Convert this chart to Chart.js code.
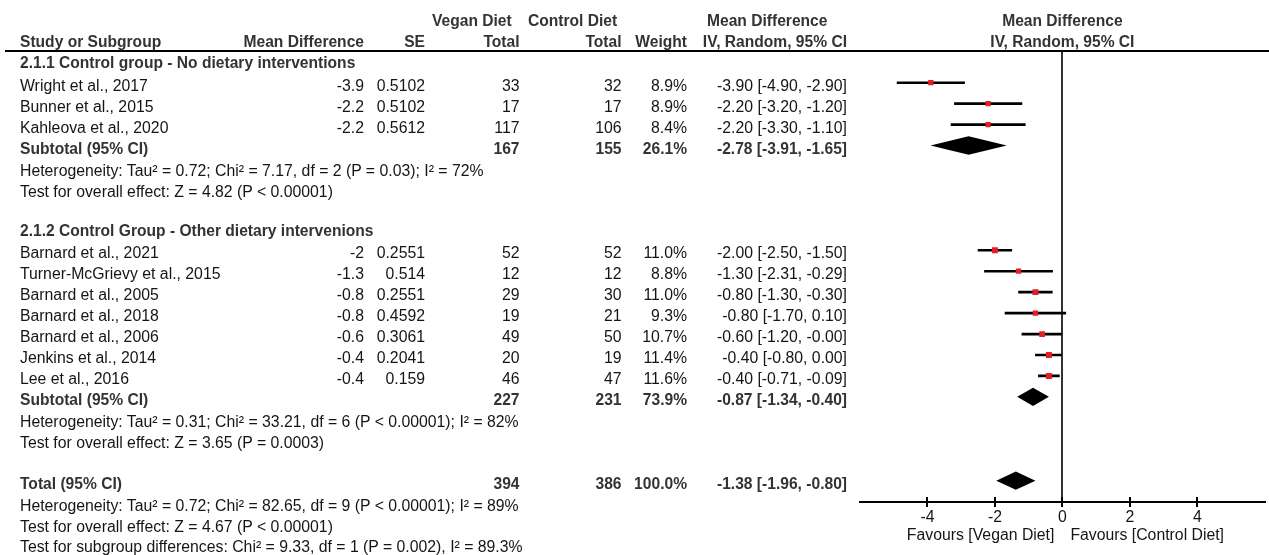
<!DOCTYPE html>
<html>
<head>
<meta charset="utf-8">
<script src="https://cdn.jsdelivr.net/npm/chart.js@4.4.1/dist/chart.umd.min.js"></script>
<style>
  html, body { margin: 0; padding: 0; background: #fff; overflow: hidden; }
  #wrap { position: relative; width: 1269px; height: 555px;
          font-family: "Liberation Sans", Arial, sans-serif; font-size: 15.8px; color: #151515; }
  #plot { position: absolute; left: 0; top: 0; }
  .t { position: absolute; white-space: nowrap; line-height: 18px; }
  .b { font-weight: bold; color: #333; font-size: 15.6px; }
  #rule { position: absolute; left: 5px; top: 50px; width: 1264px; height: 2px; background: #000; }
</style>
</head>
<body>
<div id="wrap">
  <canvas id="plot" width="1269" height="555"></canvas>
  <div id="rule"></div>
</div>
<script>
// ---- Study-level data ----
const studies = ['Wright et al., 2017', 'Bunner et al., 2015', 'Kahleova et al., 2020',
  'Barnard et al., 2021', 'Turner-McGrievy et al., 2015', 'Barnard et al., 2005',
  'Barnard et al., 2018', 'Barnard et al., 2006', 'Jenkins et al., 2014', 'Lee et al., 2016'];
const studyGroup = [0, 0, 0, 1, 1, 1, 1, 1, 1, 1];
const meanDiff = [-3.9, -2.2, -2.2, -2, -1.3, -0.8, -0.8, -0.6, -0.4, -0.4];
const stdErr = [0.5102, 0.5102, 0.5612, 0.2551, 0.514, 0.2551, 0.4592, 0.3061, 0.2041, 0.159];
const veganTotal = [33, 17, 117, 52, 12, 29, 19, 49, 20, 46];
const controlTotal = [32, 17, 106, 52, 12, 30, 21, 50, 19, 47];
const weightPct = [8.9, 8.9, 8.4, 11.0, 8.8, 11.0, 9.3, 10.7, 11.4, 11.6];
const ciLow = [-4.90, -3.20, -3.30, -2.50, -2.31, -1.30, -1.70, -1.20, -0.80, -0.71];
const ciHigh = [-2.90, -1.20, -1.10, -1.50, -0.29, -0.30, 0.10, -0.00, 0.00, -0.09];

// ---- Subgroup summaries ----
const groupTitles = ['2.1.1 Control group - No dietary interventions',
  '2.1.2 Control Group - Other dietary intervenions'];
const subVegan = [167, 227];
const subControl = [155, 231];
const subWeight = [26.1, 73.9];
const subEst = [-2.78, -0.87];
const subLow = [-3.91, -1.34];
const subHigh = [-1.65, -0.40];
const subHet = ['Heterogeneity: Tau² = 0.72; Chi² = 7.17, df = 2 (P = 0.03); I² = 72%',
  'Heterogeneity: Tau² = 0.31; Chi² = 33.21, df = 6 (P < 0.00001); I² = 82%'];
const subEffect = ['Test for overall effect: Z = 4.82 (P < 0.00001)',
  'Test for overall effect: Z = 3.65 (P = 0.0003)'];

// ---- Overall pooled result ----
const totalVegan = 394;
const totalControl = 386;
const totalWeight = 100.0;
const totalEst = -1.38;
const totalLow = -1.96;
const totalHigh = -0.80;
const totalNotes = ['Heterogeneity: Tau² = 0.72; Chi² = 82.65, df = 9 (P < 0.00001); I² = 89%',
  'Test for overall effect: Z = 4.67 (P < 0.00001)',
  'Test for subgroup differences: Chi² = 9.33, df = 1 (P = 0.002), I² = 89.3%'];

// ---- Axis ----
const xTicks = [-4, -2, 0, 2, 4];
const xRange = [-6, 6];

// ---- Row layout (one row index per table line) ----
const studyRow = [], subRow = [], titleRow = [], hetRow = [], effRow = [];
let r = 0;
groupTitles.forEach((t, g) => {
  titleRow.push(r); r++;
  studies.forEach((s, i) => { if (studyGroup[i] === g) { studyRow[i] = r; r++; } });
  subRow.push(r); r++;
  hetRow.push(r); r++;
  effRow.push(r); r++;
  r++; // blank line
});
const totalRow = r;
const noteRows = totalNotes.map((n, k) => totalRow + 1 + k);

const DIAMOND_HALF = 0.44; // half height of a pooled-estimate diamond, in rows

const fmt2 = v => (v < 0 || Object.is(v, -0) ? '-' : '') + Math.abs(v).toFixed(2);
const ciText = (e, lo, hi) => `${fmt2(e)} [${fmt2(lo)}, ${fmt2(hi)}]`;

const diamonds = [
  ...subEst.map((e, g) => ({ row: subRow[g], est: e, lo: subLow[g], hi: subHigh[g] })),
  { row: totalRow, est: totalEst, lo: totalLow, hi: totalHigh }
];

const diamondPlugin = {
  id: 'diamonds',
  afterDatasetsDraw(chart) {
    const { ctx, scales: { x, y } } = chart;
    ctx.save();
    ctx.fillStyle = '#000';
    diamonds.forEach(d => {
      const yc = y.getPixelForValue(d.row);
      const h = Math.abs(y.getPixelForValue(d.row + DIAMOND_HALF) - yc);
      ctx.beginPath();
      ctx.moveTo(x.getPixelForValue(d.lo), yc);
      ctx.lineTo(x.getPixelForValue(d.est), yc - h);
      ctx.lineTo(x.getPixelForValue(d.hi), yc);
      ctx.lineTo(x.getPixelForValue(d.est), yc + h);
      ctx.closePath();
      ctx.fill();
    });
    ctx.restore();
  }
};

// tick marks cross the axis line: add the half above it
const upperTicks = {
  id: 'upperTicks',
  afterDraw(chart) {
    const { ctx, scales: { x }, chartArea } = chart;
    ctx.save();
    ctx.strokeStyle = '#000';
    ctx.lineWidth = 2;
    xTicks.forEach(v => {
      const px = Math.round(x.getPixelForValue(v));
      ctx.beginPath();
      ctx.moveTo(px, chartArea.bottom - 5);
      ctx.lineTo(px, chartArea.bottom);
      ctx.stroke();
    });
    ctx.restore();
  }
};

const FONT = '"Liberation Sans", Arial, sans-serif';

const chart = new Chart(document.getElementById('plot'), {
  type: 'scatter',
  data: {
    datasets: [
      {
        type: 'scatter',
        order: 0,
        data: studies.map((s, i) => ({ x: meanDiff[i], y: studyRow[i] })),
        pointStyle: 'rect',
        pointRadius: weightPct.map(w => 1.76 * Math.sqrt(w) / Math.SQRT2),
        backgroundColor: '#e31e24',
        borderWidth: 0
      },
      {
        type: 'bar',
        order: 1,
        indexAxis: 'y',
        data: studies.map((s, i) => ({ x: [ciLow[i], ciHigh[i]], y: studyRow[i] })),
        barThickness: 2,
        backgroundColor: '#000',
        borderWidth: 0,
        grouped: false
      }
    ]
  },
  options: {
    responsive: false,
    animation: false,
    events: [],
    layout: { padding: { left: 860, top: 51, right: 0, bottom: 0 } },
    plugins: { legend: { display: false }, tooltip: { enabled: false } },
    scales: {
      x: {
        type: 'linear', position: 'bottom', min: xRange[0], max: xRange[1], offset: false,
        afterBuildTicks: s => { s.ticks = xTicks.map(v => ({ value: v })); },
        afterFit: s => { s.height = 53; },
        border: { display: true, color: '#000', width: 2 },
        grid: {
          offset: false, drawOnChartArea: true, lineWidth: 2,
          color: c => (c.tick && c.tick.value === 0 ? '#333' : 'rgba(0,0,0,0)'),
          tickColor: '#000', tickLength: 5, tickWidth: 2
        },
        ticks: { color: '#151515', font: { family: FONT, size: 15.8 }, padding: 1,
                 autoSkip: false, maxRotation: 0 }
      },
      y: {
        type: 'linear', reverse: true, min: -0.516, max: 21.02, display: false,
        offset: false, grid: { offset: false }
      }
    }
  },
  plugins: [diamondPlugin, upperTicks]
});

// ---- Table text, aligned to the chart's row scale ----
const wrap = document.getElementById('wrap');
const COL = { name: 20, md: 364, se: 425, vegan: 519.5, control: 621.5, weight: 687, ci: 847 };
const W = 1269;
function put(text, x, cy, align, bold) {
  const d = document.createElement('div');
  d.className = 't' + (bold ? ' b' : '');
  d.textContent = text;
  d.style.top = (cy - 9) + 'px';
  if (align === 'right') d.style.right = (W - x) + 'px';
  else if (align === 'center') { d.style.left = x + 'px'; d.style.transform = 'translateX(-50%)'; }
  else d.style.left = x + 'px';
  wrap.appendChild(d);
}
const ys = v => chart.scales.y.getPixelForValue(v);
const xs = chart.scales.x;
const plotMid = (chart.chartArea.left + chart.chartArea.right) / 2;

// column headers
put('Vegan Diet', 432, 21, 'left', true);
put('Control Diet', 528, 21, 'left', true);
put('Mean Difference', 707, 21, 'left', true);
put('Mean Difference', plotMid, 21, 'center', true);
put('Study or Subgroup', COL.name, 42, 'left', true);
put('Mean Difference', COL.md, 42, 'right', true);
put('SE', COL.se, 42, 'right', true);
put('Total', COL.vegan, 42, 'right', true);
put('Total', COL.control, 42, 'right', true);
put('Weight', COL.weight, 42, 'right', true);
put('IV, Random, 95% CI', COL.ci, 42, 'right', true);
put('IV, Random, 95% CI', plotMid, 42, 'center', true);

groupTitles.forEach((t, g) => {
  put(t, COL.name, ys(titleRow[g]) + 1.5, 'left', true);
  const cy = ys(subRow[g]) + 3;
  put('Subtotal (95% CI)', COL.name, cy, 'left', true);
  put(String(subVegan[g]), COL.vegan, cy, 'right', true);
  put(String(subControl[g]), COL.control, cy, 'right', true);
  put(subWeight[g].toFixed(1) + '%', COL.weight, cy, 'right', true);
  put(ciText(subEst[g], subLow[g], subHigh[g]), COL.ci, cy, 'right', true);
  put(subHet[g], COL.name, ys(hetRow[g]) + 4.5, 'left', false);
  put(subEffect[g], COL.name, ys(effRow[g]) + 4.5, 'left', false);
});

studies.forEach((s, i) => {
  const cy = ys(studyRow[i]) + 3;
  put(s, COL.name, cy, 'left', false);
  put(String(meanDiff[i]), COL.md, cy, 'right', false);
  put(String(stdErr[i]), COL.se, cy, 'right', false);
  put(String(veganTotal[i]), COL.vegan, cy, 'right', false);
  put(String(controlTotal[i]), COL.control, cy, 'right', false);
  put(weightPct[i].toFixed(1) + '%', COL.weight, cy, 'right', false);
  put(ciText(meanDiff[i], ciLow[i], ciHigh[i]), COL.ci, cy, 'right', false);
});

{
  const cy = ys(totalRow) + 3;
  put('Total (95% CI)', COL.name, cy, 'left', true);
  put(String(totalVegan), COL.vegan, cy, 'right', true);
  put(String(totalControl), COL.control, cy, 'right', true);
  put(totalWeight.toFixed(1) + '%', COL.weight, cy, 'right', true);
  put(ciText(totalEst, totalLow, totalHigh), COL.ci, cy, 'right', true);
  totalNotes.forEach((n, k) => put(n, COL.name, ys(noteRows[k]) + 4, 'left', false));
}

// favours labels either side of the line of no effect
const zeroPx = xs.getPixelForValue(0);
put('Favours [Vegan Diet]', zeroPx - 8, 535, 'right', false);
put('Favours [Control Diet]', zeroPx + 8, 535, 'left', false);
</script>
</body>
</html>
